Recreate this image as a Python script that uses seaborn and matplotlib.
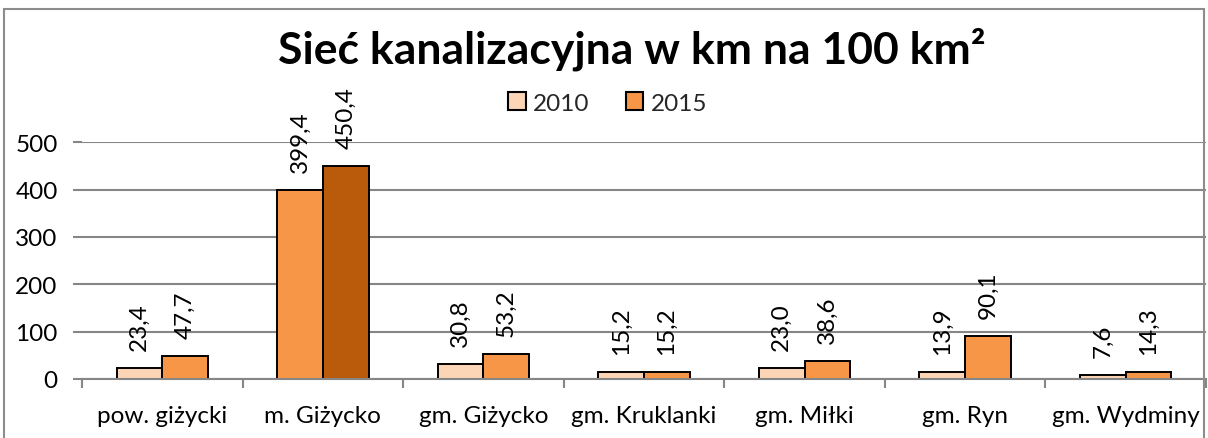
import matplotlib
matplotlib.use("Agg")
import matplotlib.pyplot as plt
from matplotlib.patches import Rectangle, Patch
import seaborn as sns
import pandas as pd

# Sewer network density (km per 100 km²)
categories = ["pow. giżycki", "m. Giżycko", "gm. Giżycko", "gm. Kruklanki",
              "gm. Miłki", "gm. Ryn", "gm. Wydminy"]
years = ["2010", "2015"]
values_2010 = [23.4, 399.4, 30.8, 15.2, 23.0, 13.9, 7.6]
values_2015 = [47.7, 450.4, 53.2, 15.2, 38.6, 90.1, 14.3]
y_ticks = [0, 100, 200, 300, 400, 500]

df = pd.DataFrame({
    "jednostka": categories * 2,
    "rok": [years[0]] * len(categories) + [years[1]] * len(categories),
    "wartosc": values_2010 + values_2015,
})

col_2010 = "#FBD5B5"
col_2015 = "#F79646"
col_city_2015 = "#BA5A0B"
grid_col = "#868686"
fs = 17.5

sns.set_theme(style="white")
plt.rcParams["font.family"] = ["Lato", "DejaVu Sans"]

fig = plt.figure(figsize=(12.08, 4.39), dpi=100)
ax = fig.add_axes([82 / 1208, 1 - 380 / 439, 1124 / 1208, (380 - 143.3) / 439])

sns.barplot(data=df, x="jednostka", y="wartosc", hue="rok", order=categories,
            hue_order=years, palette=[col_2010, col_2015], width=0.57,
            edgecolor="black", linewidth=1.4, saturation=1, legend=False, ax=ax)

# highlight the town bars with a stronger colour scheme
n = len(categories)
bars = [p for p in ax.patches if isinstance(p, Rectangle)][:2 * n]
bars_2010 = bars[:n]
bars_2015 = bars[n:]
bars_2010[1].set_facecolor(col_2015)
bars_2015[1].set_facecolor(col_city_2015)

# rotated value labels with comma decimal separator
for group, vals in ((bars_2010, values_2010), (bars_2015, values_2015)):
    for bar, v in zip(group, vals):
        ax.annotate(f"{v:.1f}".replace(".", ","),
                    xy=(bar.get_x() + bar.get_width() / 2, v),
                    xytext=(0, 13), textcoords="offset points",
                    rotation=90, ha="center", va="bottom",
                    fontsize=fs, color="black", annotation_clip=False)

ax.set_ylim(0, 500)
ax.set_xlim(-0.5, n - 0.5)
ax.set_yticks(y_ticks)
ax.set_yticklabels([str(t) for t in y_ticks])
ax.yaxis.grid(True, color=grid_col, linewidth=1.5)
ax.set_axisbelow(True)
ax.set_xlabel("")
ax.set_ylabel("")

for side in ("left", "right", "top"):
    ax.spines[side].set_visible(False)
ax.spines["bottom"].set_color(grid_col)
ax.spines["bottom"].set_linewidth(1.5)

ax.tick_params(axis="y", length=6.5, width=1.5, color=grid_col, pad=11,
               labelsize=fs, left=True, labelcolor="black")
ax.set_xticks(range(n))
ax.set_xticklabels(categories)
ax.tick_params(axis="x", which="major", length=0, pad=19, labelsize=fs,
               labelcolor="black")
ax.set_xticks([i - 0.5 for i in range(n + 1)], minor=True)
ax.tick_params(axis="x", which="minor", length=6.5, width=1.5, color=grid_col,
               bottom=True)

fig.text(0.5228, 0.888, "Sieć kanalizacyjna w km na 100 km²", ha="center",
         va="center", fontsize=32, fontweight="bold", color="black")

handles = [Patch(facecolor=col_2010, edgecolor="black", linewidth=1.5, label=years[0]),
           Patch(facecolor=col_2015, edgecolor="black", linewidth=1.5, label=years[1])]
fig.legend(handles=handles, loc="center", bbox_to_anchor=(0.503, 0.763), ncol=2,
           frameon=False, fontsize=fs, handlelength=0.72, handleheight=0.72,
           handletextpad=0.3, columnspacing=1.5, borderpad=0)

# chart border
fig.patches.append(Rectangle((4 / 1208, -0.05), 1200 / 1208, 1.05 - 10 / 439,
                             transform=fig.transFigure, fill=False,
                             edgecolor="#8C8C8C", linewidth=1.5))

fig.savefig("out.png", dpi=100, facecolor="white")
